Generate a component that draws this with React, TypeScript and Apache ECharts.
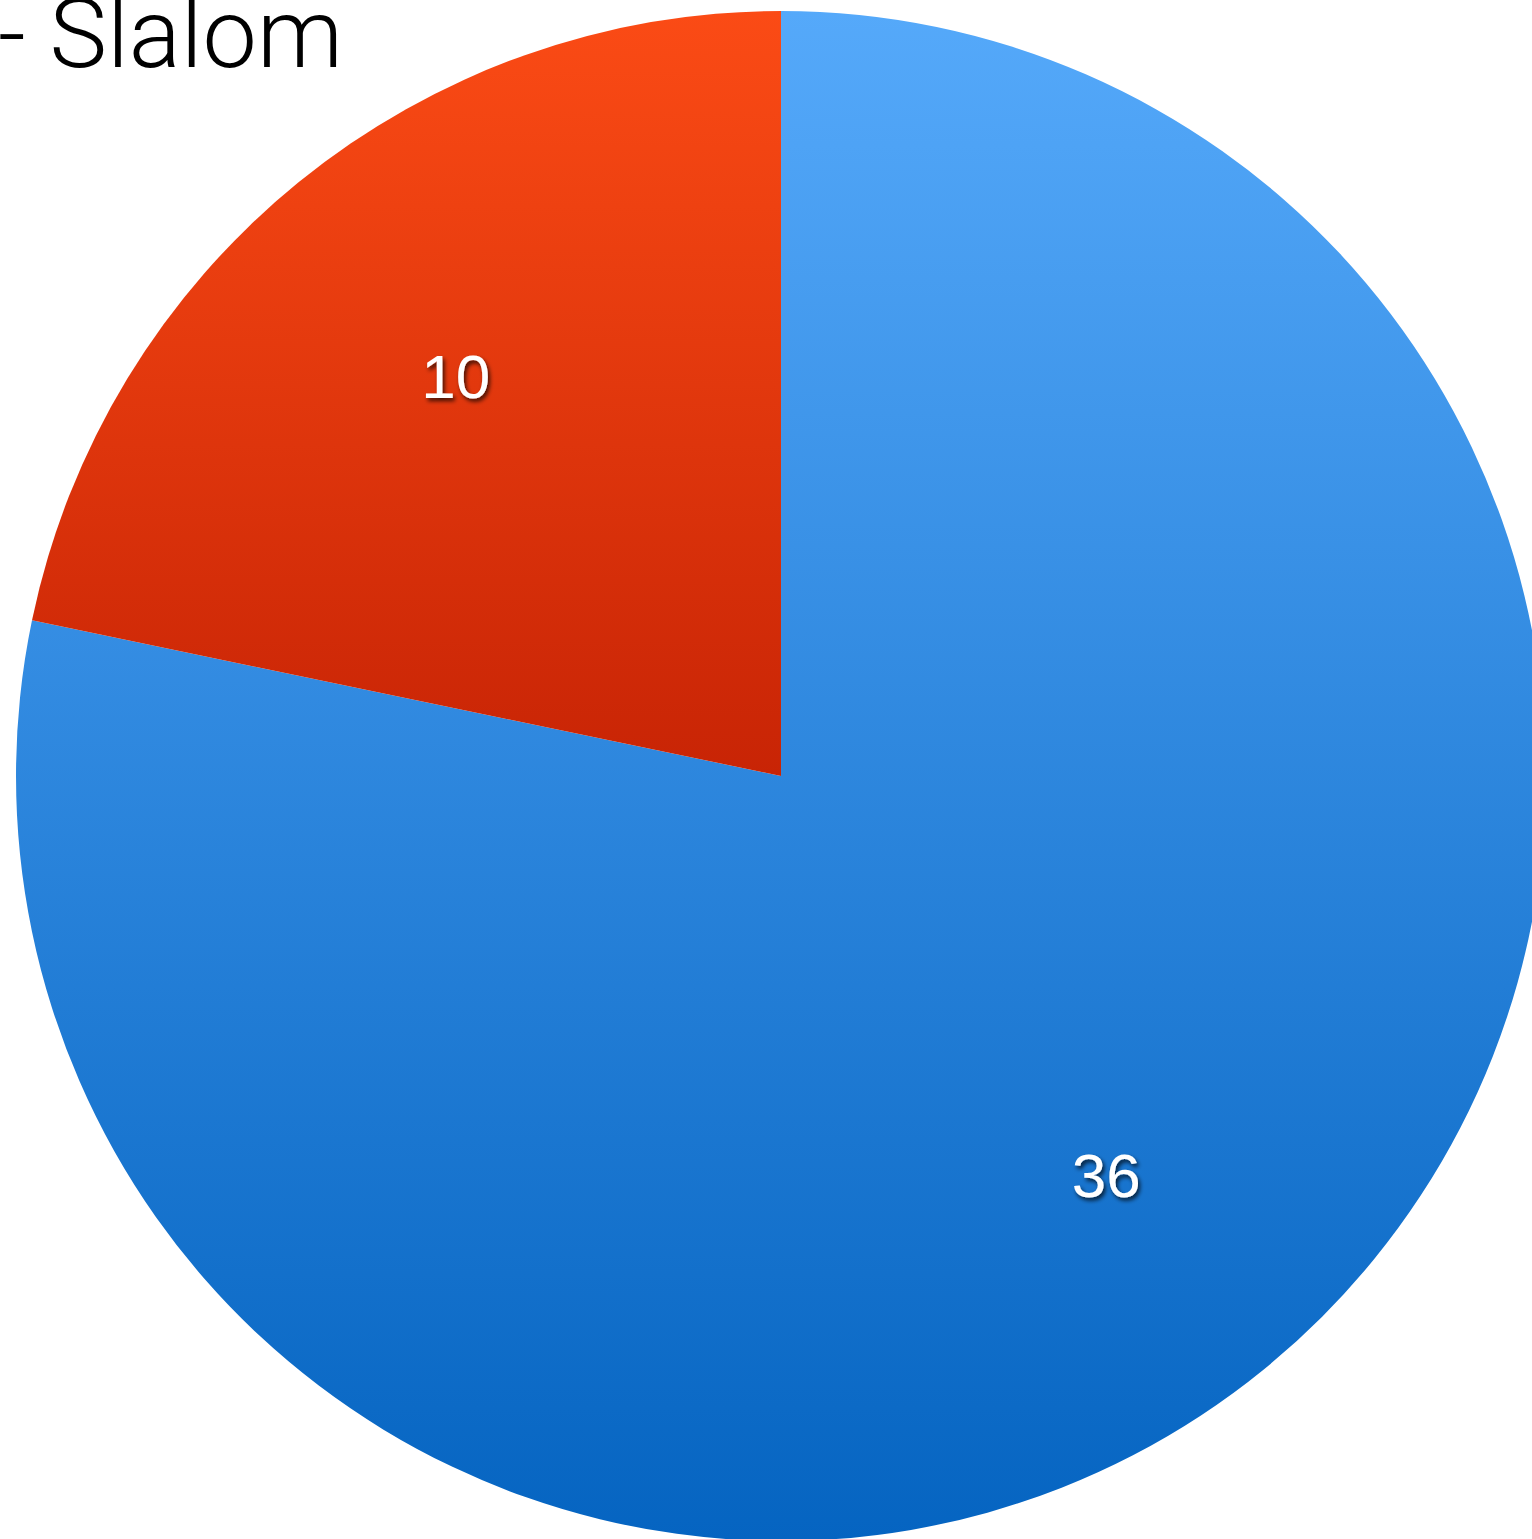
import React, { useEffect, useRef } from "react";
import * as echarts from "echarts";

const categories = ["Blue", "Red"];
const values = [36, 10];
const titleText = "- Slalom";

export default function App() {
  const ref = useRef<HTMLDivElement>(null);
  useEffect(() => {
    if (!ref.current) return;
    const chart = echarts.init(ref.current, undefined, { renderer: "svg" });
    const cx = 781, cy = 776, R = 765;
    const fills = [
      new echarts.graphic.LinearGradient(0, cy - R, 0, cy + R, [
        { offset: 0, color: "#55A9FA" },
        { offset: 1, color: "#0564C1" },
      ], true),
      new echarts.graphic.LinearGradient(0, cy - R, 0, cy, [
        { offset: 0, color: "#FB4B15" },
        { offset: 1, color: "#C82405" },
      ], true),
    ];
    const data = categories.map((c, i) => ({
      name: c,
      value: values[i],
      itemStyle: { color: fills[i] },
    }));
    chart.setOption({
      animation: false,
      graphic: [
        {
          type: "text",
          left: -2,
          top: -15,
          style: {
            text: titleText,
            fontSize: 97,
            fontFamily: "Roboto",
            fontWeight: 300,
            fill: "#000",
          },
        },
      ],
      series: [
        {
          type: "pie",
          center: [cx, cy],
          radius: [0, R],
          startAngle: 90,
          clockwise: true,
          silent: true,
          label: { show: false },
          labelLine: { show: false },
          itemStyle: { borderWidth: 0 },
          data,
        },
        {
          type: "pie",
          center: [cx, cy],
          radius: [R * 0.34, R],
          startAngle: 90,
          clockwise: true,
          silent: true,
          labelLine: { show: false },
          itemStyle: { color: "rgba(0,0,0,0)", borderWidth: 0 },
          label: {
            show: true,
            position: "inside",
            formatter: "{c}",
            color: "#fff",
            fontSize: 62,
            fontFamily: "Liberation Sans",
            textShadowColor: "rgba(0,0,0,0.75)",
            textShadowBlur: 4,
            textShadowOffsetX: 2,
            textShadowOffsetY: 3,
          },
          data: categories.map((c, i) => ({ name: c, value: values[i] })),
        },
      ],
    });
    return () => chart.dispose();
  }, []);
  return (
    <div
      ref={ref}
      style={{ position: "absolute", left: 0, top: 0, width: 1532, height: 1539, background: "#fff" }}
    />
  );
}
